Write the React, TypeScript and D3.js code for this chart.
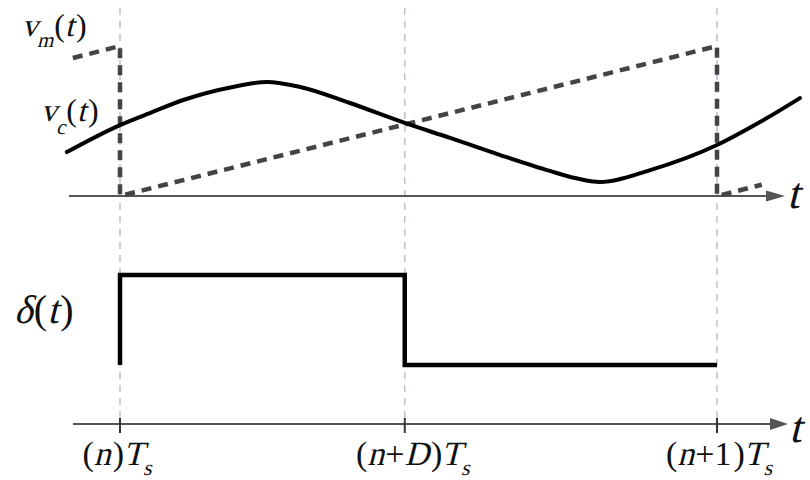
import React, { useRef, useEffect } from 'react';
import * as d3 from 'd3';

// switching period in units of Ts, duty cycle D
const dutyCycle = 0.477;

// control voltage vc(t): samples (t in Ts, value normalised to ramp peak)
const vcTime = [-0.089, 0, 0.05, 0.106, 0.189, 0.246, 0.302, 0.385, 0.477, 0.553, 0.637, 0.72, 0.762, 0.804, 0.888, 1.0, 1.072, 1.139];
const vcValue = [0.293, 0.473, 0.553, 0.64, 0.727, 0.76, 0.727, 0.62, 0.487, 0.387, 0.273, 0.167, 0.12, 0.093, 0.173, 0.34, 0.493, 0.653];

// modulating ramp vm(t): sawtooth corners
const vmTime = [-0.079, 0, 0, 1, 1, 1.075];
const vmValue = [0.92, 1, 0, 1, 0, 0.075];

// switching function delta(t)
const pulseTime = [0, 0, dutyCycle, dutyCycle, 1];
const pulseValue = [0, 1, 1, 0, 0];

const tickTimes = [0, dutyCycle, 1];
const tickInner = [[], ['+', 'D'], ['+', '1']];
const tickShift = [-3, 8, 2];

const W = 810;
const H = 480;
const FONT = 'Liberation Serif, Times New Roman, serif';

type Seg = { s: string; it?: boolean; size: number; dy?: number; dx?: number };

// places text pieces one after another, faking italics with a skew
function drawMath(parent: any, x: number, y: number, segs: Seg[], anchor = 'start') {
  const g = parent.append('g');
  let cx = 0;
  segs.forEach((seg) => {
    cx += seg.dx || 0;
    const t = g.append('text')
      .attr('font-family', FONT)
      .attr('font-size', seg.size)
      .attr('fill', '#111')
      .attr('transform', `translate(${cx},${seg.dy || 0})${seg.it ? ' skewX(-14)' : ''}`)
      .text(seg.s);
    cx += (t.node() as SVGTextElement).getComputedTextLength();
  });
  const shift = anchor === 'middle' ? -cx / 2 : 0;
  g.attr('transform', `translate(${x + shift},${y})`);
}

const App = () => {
  const labelRef = useRef<SVGGElement>(null);

  const x = d3.scaleLinear().domain([0, 1]).range([120, 717]);
  const yTop = d3.scaleLinear().domain([0, 1]).range([196, 46]);
  const yPulse = d3.scaleLinear().domain([0, 1]).range([365, 275]);

  const vcLine = d3.line<number>()
    .x((_, i) => x(vcTime[i]))
    .y((d) => yTop(d))
    .curve(d3.curveMonotoneX);

  const vmLine = d3.line<number>()
    .x((_, i) => x(vmTime[i]))
    .y((d) => yTop(d));

  const pulseLine = d3.line<number>()
    .x((_, i) => x(pulseTime[i]))
    .y((d) => yPulse(d));

  const axisColor = '#555';
  const topAxisY = yTop(0);
  const botAxisY = 424;

  useEffect(() => {
    const root = d3.select(labelRef.current);
    root.selectAll('*').remove();

    // signal names
    drawMath(root, 22, 36, [
      { s: 'v', it: true, size: 32 },
      { s: 'm', it: true, size: 21, dy: 11, dx: -1 },
      { s: '(', size: 32, dx: 1 },
      { s: 't', it: true, size: 32 },
      { s: ')', size: 32, dx: 2 },
    ]);
    drawMath(root, 41, 121, [
      { s: 'v', it: true, size: 32 },
      { s: 'c', it: true, size: 21, dy: 13, dx: -1 },
      { s: '(', size: 32, dx: 1 },
      { s: 't', it: true, size: 32 },
      { s: ')', size: 32, dx: 2 },
    ]);
    drawMath(root, 14, 323, [
      { s: 'δ', it: true, size: 40 },
      { s: '(', size: 40, dx: 1 },
      { s: 't', it: true, size: 40 },
      { s: ')', size: 40, dx: 2 },
    ]);

    // axis variable
    drawMath(root, 787, topAxisY + 12, [{ s: 't', it: true, size: 44 }]);
    drawMath(root, 789, botAxisY + 18, [{ s: 't', it: true, size: 44 }]);

    // period ticks
    tickTimes.forEach((t, i) => {
      const inner = tickInner[i];
      const segs: Seg[] = [
        { s: '(', size: 34 },
        { s: 'n', it: true, size: 34 },
      ];
      if (inner.length) {
        segs.push({ s: inner[0], size: 34, dx: 1 });
        segs.push({ s: inner[1], it: inner[1] === 'D', size: 34 });
      }
      segs.push({ s: ')', size: 34, dx: 2 });
      segs.push({ s: 'T', it: true, size: 34, dx: -1 });
      segs.push({ s: 's', it: true, size: 22, dy: 10, dx: -1 });
      drawMath(root, x(t) + tickShift[i], 465, segs, 'middle');
    });
  }, []);

  return (
    <div style={{ position: 'absolute', left: 0, top: 0 }}>
      <svg width={W} height={H} style={{ display: 'block', background: '#fff' }}>
        {/* guide lines */}
        {tickTimes.map((t, i) => (
          <line key={'g' + i} x1={x(t)} x2={x(t)} y1={8} y2={418}
            stroke="#b9c1cf" strokeWidth={1.5} strokeDasharray="7,6" />
        ))}

        {/* top axis */}
        <line x1={69} x2={770} y1={topAxisY} y2={topAxisY} stroke={axisColor} strokeWidth={2} />
        <path d={`M766,${topAxisY - 5.5} L785,${topAxisY} L766,${topAxisY + 5.5} Z`} fill={axisColor} />

        {/* bottom axis */}
        <line x1={73} x2={776} y1={botAxisY} y2={botAxisY} stroke={axisColor} strokeWidth={2} />
        <path d={`M770,${botAxisY - 6} L788,${botAxisY} L770,${botAxisY + 6} Z`} fill={axisColor} />
        {tickTimes.map((t, i) => (
          <line key={'t' + i} x1={x(t)} x2={x(t)} y1={botAxisY - 6} y2={botAxisY + 9} stroke="#333" strokeWidth={2} />
        ))}

        {/* vm(t) sawtooth */}
        <path d={vmLine(vmValue) || ''} fill="none" stroke="#444" strokeWidth={4.5} strokeDasharray="10,7" />

        {/* vc(t) */}
        <path d={vcLine(vcValue) || ''} fill="none" stroke="#000" strokeWidth={4} strokeLinecap="round" />

        {/* delta(t) */}
        <path d={pulseLine(pulseValue) || ''} fill="none" stroke="#000" strokeWidth={4.5} strokeLinejoin="miter" />

        <g ref={labelRef} />
      </svg>
    </div>
  );
};

export default App;
